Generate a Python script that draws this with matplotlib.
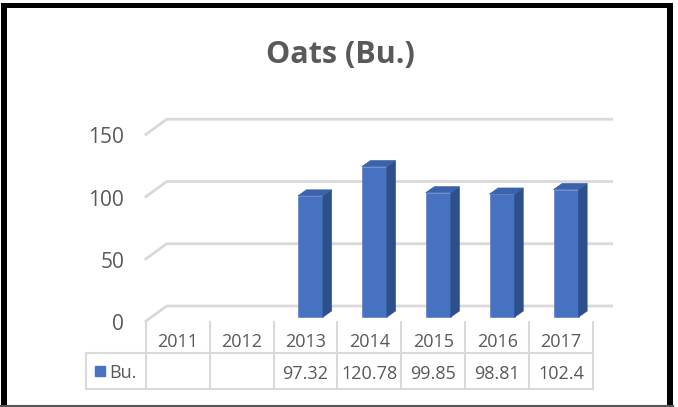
import numpy as np
import matplotlib
matplotlib.use("Agg")
import matplotlib.pyplot as plt
from matplotlib.patches import Polygon, Rectangle
from matplotlib.transforms import blended_transform_factory

years = ["2011", "2012", "2013", "2014", "2015", "2016", "2017"]
bushels = [np.nan, np.nan, 97.32, 120.78, 99.85, 98.81, 102.4]
value_labels = ["", "", "97.32", "120.78", "99.85", "98.81", "102.4"]
y_ticks = [0, 50, 100, 150]
series_name = "Bu."
title = "Oats (Bu.)"

W, H = 678, 407
FRONT = "#4672C1"
SIDE = "#2D4F8A"
TOP = "#3B62AA"
GRID = "#D9D9D9"
TXT = "#595959"
FONT = "Open Sans"

# pixel geometry of the category / value scales (front plane of the bars)
cat_px, cat0_px = 63.9, 182.7
val_px, base_px = 1.245, 317

fig = plt.figure(figsize=(W / 100, H / 100), dpi=100)

# overlay in pixel coords for frame, title and table
fr = fig.add_axes([0, 0, 1, 1])
fr.set_xlim(0, W)
fr.set_ylim(H, 0)
fr.axis("off")

# data axes: x = category index, y = value
x0 = cat0_px - 0.5 * cat_px
ax = fig.add_axes([x0 / W, (H - base_px) / H,
                   7 * cat_px / W, 150 * val_px / H])
ax.set_xlim(-0.5, 6.5)
ax.set_ylim(0, 150)
ax.axis("off")

dx = 1 / cat_px   # one pixel in category units
dy = 1 / val_px   # one pixel in value units

# back wall gridlines with the slanted side-wall piece
for v in y_ticks:
    back = v + 11 * dy
    front = v - 5 * dy
    xl_front = -0.5 - 6 * dx
    xl_back = xl_front + 22 * dx
    xr = 6.5 + 15 * dx
    ax.plot([xl_front, xl_back, xr], [front, back, back], color=GRID,
            lw=2, solid_capstyle="butt", clip_on=False, zorder=1)
    fr.text(124, base_px - v * val_px + 7.5, str(v), ha="right", va="center",
            fontsize=15, color=TXT, family=FONT)

# 3d columns: front via bar, side and top faces as polygons
hw = 0.196
bdx, bdy = 8.5 * dx, 6 * dy
x = np.arange(len(years))
ax.bar(x, bushels, width=2 * hw, color=FRONT, edgecolor="#5A82C8",
       lw=0.5, zorder=3, clip_on=False)
for i, v in enumerate(bushels):
    if np.isnan(v):
        continue
    side = [(i + hw, 0), (i + hw + bdx, bdy), (i + hw + bdx, v + bdy), (i + hw, v)]
    top = [(i - hw, v), (i + hw, v), (i + hw + bdx, v + bdy), (i - hw + bdx, v + bdy)]
    ax.add_patch(Polygon(side, closed=True, fc=SIDE, ec=SIDE, lw=0.5,
                         zorder=3, clip_on=False))
    ax.add_patch(Polygon(top, closed=True, fc=TOP, ec=TOP, lw=0.5,
                         zorder=3, clip_on=False))

fr.text(340.5, 63, title, ha="center", va="baseline", fontsize=22,
        fontweight="bold", color=TXT, family=FONT)

# data table: x in category units (shifted left a bit), y in pixels
tt = blended_transform_factory(ax.transData, fr.transData)
shift = -5 * dx
edges = np.arange(len(years) + 1) - 0.5 + shift
leg_left = (86 - cat0_px) * dx
row0, row1, row2 = 322, 353, 389
for e in edges:
    fr.plot([e, e], [row0, row2], color=GRID, lw=1.5, transform=tt,
            clip_on=False, zorder=2)
fr.plot([leg_left, leg_left], [row1, row2], color=GRID, lw=1.5,
        transform=tt, clip_on=False)
for yy in (row1, row2):
    fr.plot([leg_left, edges[-1]], [yy, yy], color=GRID, lw=1.5,
            transform=tt, clip_on=False)
for i in range(len(years)):
    fr.text(i + shift, 342, years[i], ha="center", va="center",
            fontsize=13, color=TXT, family=FONT, transform=tt)
    fr.text(i + shift, 374, value_labels[i], ha="center", va="center",
            fontsize=13, color=TXT, family=FONT, transform=tt)
fr.add_patch(Rectangle((95, 366), 10, 10, color=FRONT))
fr.text(109, 373, series_name, ha="left", va="center", fontsize=13,
        color=TXT, family=FONT)

# outer frame of the screenshot
fr.add_patch(Rectangle((1, 3), 6, H - 3, color="black", lw=0))
fr.add_patch(Rectangle((1, 3), 672, 5, color="black", lw=0))
fr.add_patch(Rectangle((667, 3), 6, H - 3, color="black", lw=0))
fr.plot([0, 673], [405.5, 405.5], color="#555555", lw=1.5)

fig.savefig("out.png", dpi=100)
